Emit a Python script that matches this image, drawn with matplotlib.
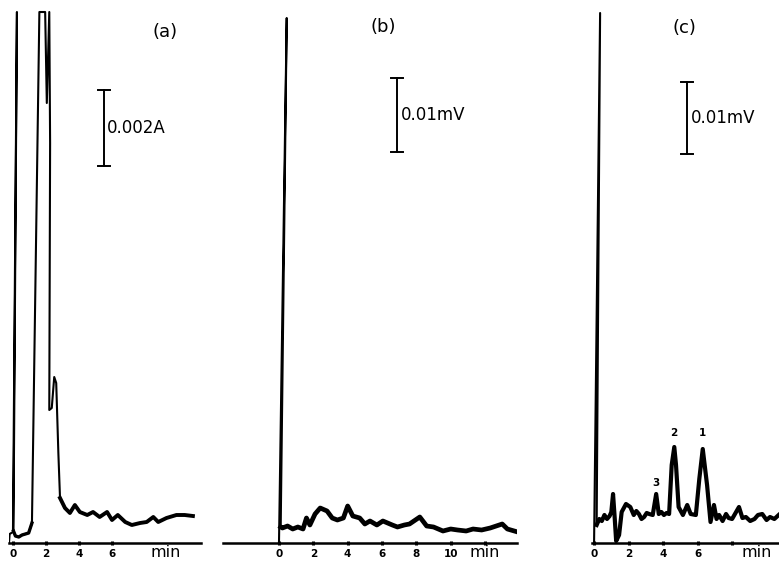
import matplotlib
matplotlib.use("Agg")
import matplotlib.pyplot as plt

W, H = 779, 563

# (a) time (min) and recorder response (chart height, arbitrary units)
t_a = [-0.24, -0.2, 0.0, 0.24, 0.03, 0.15, 0.35, 0.55, 0.75, 0.95, 1.05, 1.15,
       1.6, 1.95, 2.05, 2.2, 2.25, 2.2, 2.35, 2.5, 2.62, 2.75, 2.85, 3.15, 3.45,
       3.75, 4.05, 4.5, 4.85, 5.25, 5.7, 6.0, 6.35, 6.8, 7.2, 7.7, 8.1, 8.5,
       8.8, 9.3, 9.9, 10.4, 10.9]
y_a = [0, 9, 11, 531, 12, 7, 6, 8, 9, 10, 15, 20,
       531, 531, 440, 531, 400, 133, 135, 166, 160, 90, 45, 35, 30,
       38, 31, 28, 31, 26, 31, 23, 28, 21, 18, 20, 21, 26,
       21, 25, 28, 28, 27]

# (b)
t_b = [0.0, 0.45, 0.1, 0.2, 0.5, 0.8, 1.1, 1.4, 1.6, 1.8, 2.1, 2.4, 2.8, 3.1,
       3.4, 3.75, 4.0, 4.3, 4.7, 5.0, 5.3, 5.7, 6.05, 6.6, 6.9, 7.3, 7.6, 8.2,
       8.6, 9.0, 9.55, 10.0, 10.4, 10.9, 11.3, 11.8, 12.3, 13.0, 13.3, 13.9]
y_b = [0, 525, 16, 15, 17, 14, 16, 14, 25, 18, 29, 35, 32, 25,
       23, 25, 37, 27, 25, 19, 22, 18, 22, 18, 16, 18, 19, 26,
       17, 16, 12, 14, 13, 12, 14, 13, 15, 19, 14, 11]

# (c)
t_c = [0.0, 0.35, 0.15, 0.3, 0.45, 0.6, 0.75, 0.9, 1.0, 1.1, 1.2, 1.28, 1.45,
       1.6, 1.85, 2.1, 2.3, 2.45, 2.6, 2.75, 2.9, 3.05, 3.2, 3.4, 3.6, 3.75,
       3.9, 4.05, 4.2, 4.35, 4.5, 4.65, 4.75, 4.9, 5.15, 5.4, 5.6, 5.9, 6.1,
       6.3, 6.55, 6.75, 6.95, 7.1, 7.25, 7.45, 7.65, 7.8, 8.0, 8.2, 8.4, 8.6,
       8.8, 9.05, 9.3, 9.5, 9.75, 10.0, 10.2, 10.45, 10.7]
y_c = [0, 530, 18, 24, 22, 28, 24, 27, 31, 49, 24, 2, 8,
       31, 39, 36, 28, 32, 29, 24, 26, 30, 29, 28, 49, 29,
       31, 28, 30, 29, 78, 96, 78, 36, 28, 38, 29, 28, 64,
       94, 58, 21, 38, 24, 28, 22, 29, 25, 24, 30, 36, 25,
       26, 22, 24, 28, 29, 23, 26, 24, 28]

peak_names = ["3", "2", "1"]
peak_t = [3.6, 4.6, 6.3]
peak_y = [60, 110, 110]


def panel(fig, x0, x1, tlim, ticks, labels):
    ax = fig.add_axes([x0 / W, 20 / H, (x1 - x0) / W, 543 / H])
    ax.set_xlim(*tlim)
    ax.set_ylim(0, 543)
    for s in ["top", "right", "left"]:
        ax.spines[s].set_visible(False)
    ax.spines["bottom"].set_linewidth(1.8)
    ax.set_yticks([])
    ax.set_xticks(ticks)
    ax.set_xticklabels(labels, fontsize=7.5, fontweight="bold")
    ax.tick_params(axis="x", length=3, width=2.2, direction="inout", pad=3)
    return ax


def scale_bar(ax, t, lo, hi, w, label):
    ax.plot([t, t], [lo, hi], color="k", lw=1.4)
    ax.plot([t - w, t + w], [hi, hi], color="k", lw=1.4)
    ax.plot([t - w, t + w], [lo, lo], color="k", lw=1.4)
    ax.text(t + 0.2, (lo + hi) / 2, label, fontsize=12, va="center", ha="left")


fig = plt.figure(figsize=(W / 100, H / 100), dpi=100)

# panel (a)
ax = panel(fig, 9, 201, (-0.24, 11.39), [0, 2, 4, 6], ["0", "2", "4", "6"])
ax.plot(t_a, y_a, color="k", lw=1.5)
ax.plot(t_a[4:12], y_a[4:12], color="k", lw=2.4)
ax.plot(t_a[22:], y_a[22:], color="k", lw=2.8)
scale_bar(ax, 5.5, 377, 453, 0.36, "0.002A")
ax.text(9.2, 511, "(a)", fontsize=13, ha="center", va="center")
ax.text(9.27, -9.5, "min", fontsize=11.5, ha="center", va="center")

# panel (b)
ax = panel(fig, 223, 517, (-3.26, 13.86), list(range(0, 13, 2)),
           ["0", "2", "4", "6", "8", "10", ""])
ax.plot(t_b, y_b, color="k", lw=1.5)
ax.plot(t_b[2:], y_b[2:], color="k", lw=3.4)
scale_bar(ax, 6.87, 391, 465, 0.35, "0.01mV")
ax.text(6.06, 516, "(b)", fontsize=13, ha="center", va="center")
ax.text(12.0, -9.5, "min", fontsize=11.5, ha="center", va="center")

# panel (c)
ax = panel(fig, 592, 779, (-0.12, 10.72), [0, 2, 4, 6, 8], ["0", "2", "4", "6", ""])
ax.plot(t_c, y_c, color="k", lw=1.5)
ax.plot(t_c[2:], y_c[2:], color="k", lw=3.0)
scale_bar(ax, 5.39, 389, 461, 0.35, "0.01mV")
ax.text(5.22, 515, "(c)", fontsize=13, ha="center", va="center")
ax.text(9.45, -9.5, "min", fontsize=11.5, ha="center", va="center")
for name, t, y in zip(peak_names, peak_t, peak_y):
    ax.text(t, y, name, fontsize=7.5, fontweight="bold", ha="center", va="center")

fig.savefig("out.png", dpi=100)
